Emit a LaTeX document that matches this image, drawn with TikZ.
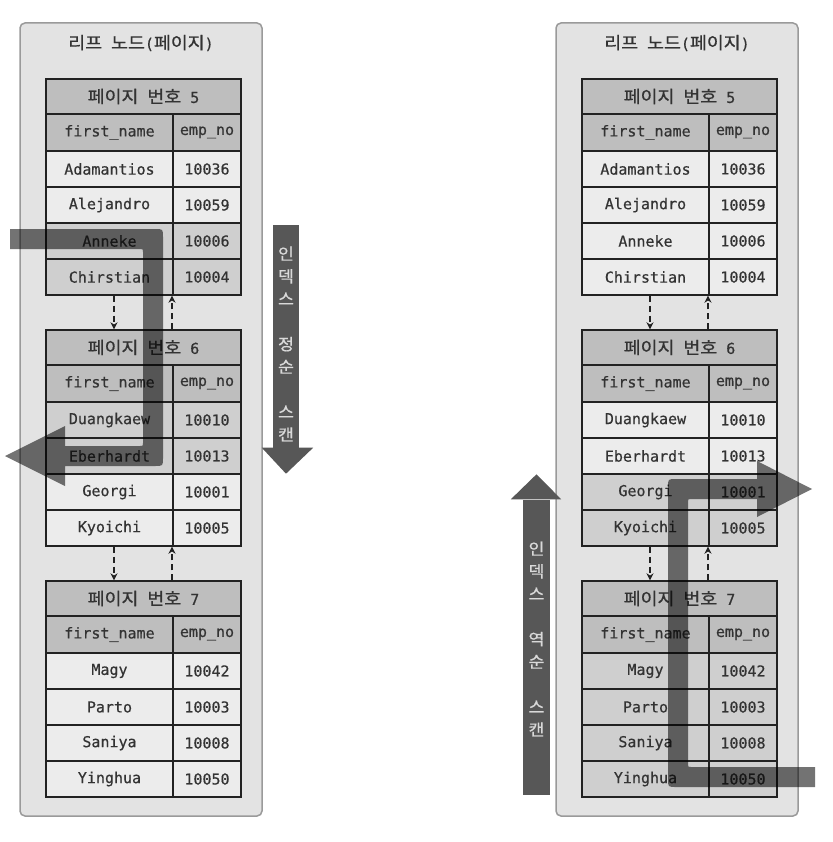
\documentclass[tikz,border=0pt]{standalone}
\usepackage{fontspec}
\setmonofont{DejaVu Sans Mono}[FakeBold=0.5]
\newfontfamily\krfont{Noto Sans CJK KR}[FakeStretch=1.08,FakeBold=0.7]
\usetikzlibrary{arrows.meta,calc}
\definecolor{boxfill}{HTML}{E3E3E3}
\definecolor{boxline}{HTML}{9A9A9A}
\definecolor{hdr}{HTML}{BEBEBE}
\definecolor{rowc}{HTML}{ECECEC}
\definecolor{hl}{HTML}{CFCFCF}
\definecolor{ink}{HTML}{222222}
\definecolor{txt}{HTML}{333333}
\definecolor{scan}{HTML}{575757}
\newcommand\K[1]{{\krfont\fontsize{17}{20}\selectfont #1}}
\tikzset{
  panel/.style={draw=boxline, fill=boxfill, line width=1.5pt, rounded corners=5pt,
    minimum width=242pt, minimum height=793pt, inner sep=0pt},
  cellbase/.style={draw=ink, line width=1.4pt, inner sep=0pt, text=txt,
    font=\ttfamily\fontsize{15}{18}\selectfont},
  hdrcell/.style={cellbase, fill=hdr},
  titletext/.style={text=txt, font=\ttfamily\fontsize{15}{18}\selectfont},
  dasharrow/.style={draw=ink, line width=1.2pt, dash pattern=on 6pt off 4pt,
    -{Stealth[length=7pt,width=7pt]}},
  bigarrow/.style={fill=black, fill opacity=0.55},
  scanbar/.style={fill=scan, draw=none, minimum width=26pt, inner sep=0pt},
  scantext/.style={text=white!85!black, align=center,
    font=\krfont\fontsize{16}{22.6}\selectfont}
}
\newcommand\pagetab[5]{%
  \node[hdrcell, minimum width=195pt, minimum height=35pt] (#1#3h) at (#2+143.5,#4+17.5) {\K{페이지} \K{번호} #3};
  \node[hdrcell, minimum width=127pt, minimum height=37pt] (#1#3cn) at (#2+109.5,#4+53.5) {first\_name};
  \node[hdrcell, minimum width=68pt, minimum height=37pt] (#1#3cv) at (#2+207,#4+53.5) {emp\_no};
  \foreach \nm/\vl/\fc [count=\i] in {#5}{
    \node[cellbase, fill=\fc, minimum width=127pt, minimum height=36pt] (#1#3n\i) at (#2+109.5,#4+54+36*\i) {\nm};
    \node[cellbase, fill=\fc, minimum width=68pt, minimum height=36pt] (#1#3v\i) at (#2+207,#4+54+36*\i) {\vl};
  }%
}
\begin{document}
\begin{tikzpicture}[x=1pt,y=-1pt]
\fill[white] (0,0) rectangle (832,842);
\path[use as bounding box] (0,0) rectangle (832,842);

% panels
\node[panel] (Lbox) at (141,419.5) {};
\node[panel] (Rbox) at (677,419.5) {};
\node[titletext] (Ltitle) at (141,43) {\K{리프} \K{노드}(\K{페이지})};
\node[titletext] (Rtitle) at (677,43) {\K{리프} \K{노드}(\K{페이지})};

% left tables
\pagetab{L}{0}{5}{79}{Adamantios/10036/rowc, Alejandro/10059/rowc, Anneke/10006/hl, Chirstian/10004/hl}
\pagetab{L}{0}{6}{330}{Duangkaew/10010/hl, Eberhardt/10013/hl, Georgi/10001/rowc, Kyoichi/10005/rowc}
\pagetab{L}{0}{7}{581}{Magy/10042/rowc, Parto/10003/rowc, Saniya/10008/rowc, Yinghua/10050/rowc}
% right tables
\pagetab{R}{536}{5}{79}{Adamantios/10036/rowc, Alejandro/10059/rowc, Anneke/10006/rowc, Chirstian/10004/rowc}
\pagetab{R}{536}{6}{330}{Duangkaew/10010/rowc, Eberhardt/10013/rowc, Georgi/10001/hl, Kyoichi/10005/hl}
\pagetab{R}{536}{7}{581}{Magy/10042/hl, Parto/10003/hl, Saniya/10008/hl, Yinghua/10050/hl}

% page links
\foreach \P/\ox in {L/0, R/536}{
  \coordinate (\P xd) at (\ox+114,0);
  \coordinate (\P xu) at (\ox+172,0);
  \draw[dasharrow] (\P5n4.south -| \P xd) -- (\P6h.north -| \P xd);
  \draw[dasharrow] (\P6h.north -| \P xu) -- (\P5v4.south -| \P xu);
  \draw[dasharrow] (\P6n4.south -| \P xd) -- (\P7h.north -| \P xd);
  \draw[dasharrow] (\P7h.north -| \P xu) -- (\P6v4.south -| \P xu);
}

% scan direction bars
\node[scanbar, minimum height=223pt] (Lscan) at (286,336) {};
\fill[scan] ([xshift=-11pt]Lscan.south west) -- ([xshift=14pt]Lscan.south east) -- ([yshift=-26pt]Lscan.south) -- cycle;
\node[scantext] (Lscantxt) at (286,344) {인\\덱\\스\\[22.6pt]정\\순\\[22.6pt]스\\캔};

\node[scanbar, minimum width=27pt, minimum height=295pt] (Rscan) at (536.5,647) {};
\fill[scan] ([xshift=-12pt]Rscan.north west) -- ([xshift=11pt]Rscan.north east) -- ([yshift=25pt]Rscan.north) -- cycle;
\node[scantext] (Rscantxt) at (536.5,639) {인\\덱\\스\\[22.6pt]역\\순\\[22.6pt]스\\캔};

% big translucent scan paths
\fill[bigarrow] (10,229) -- (155,229) .. controls (163,229) .. (163,237) -- (163,458)
  .. controls (163,466) .. (155,466) -- (65,466) -- (65,486) -- (5,456) -- (65,426) -- (65,446)
  -- (140,446) .. controls (143,446) .. (143,443) -- (143,252) .. controls (143,249) .. (140,249)
  -- (10,249) -- cycle;
\fill[bigarrow] (815,767) -- (691,767) .. controls (688,767) .. (688,764) -- (688,502)
  .. controls (688,499) .. (691,499) -- (757,499) -- (757,517) -- (812,489) -- (757,461) -- (757,479)
  -- (676,479) .. controls (668,479) .. (668,487) -- (668,779) .. controls (668,787) .. (676,787)
  -- (815,787) -- cycle;
\end{tikzpicture}
\end{document}
